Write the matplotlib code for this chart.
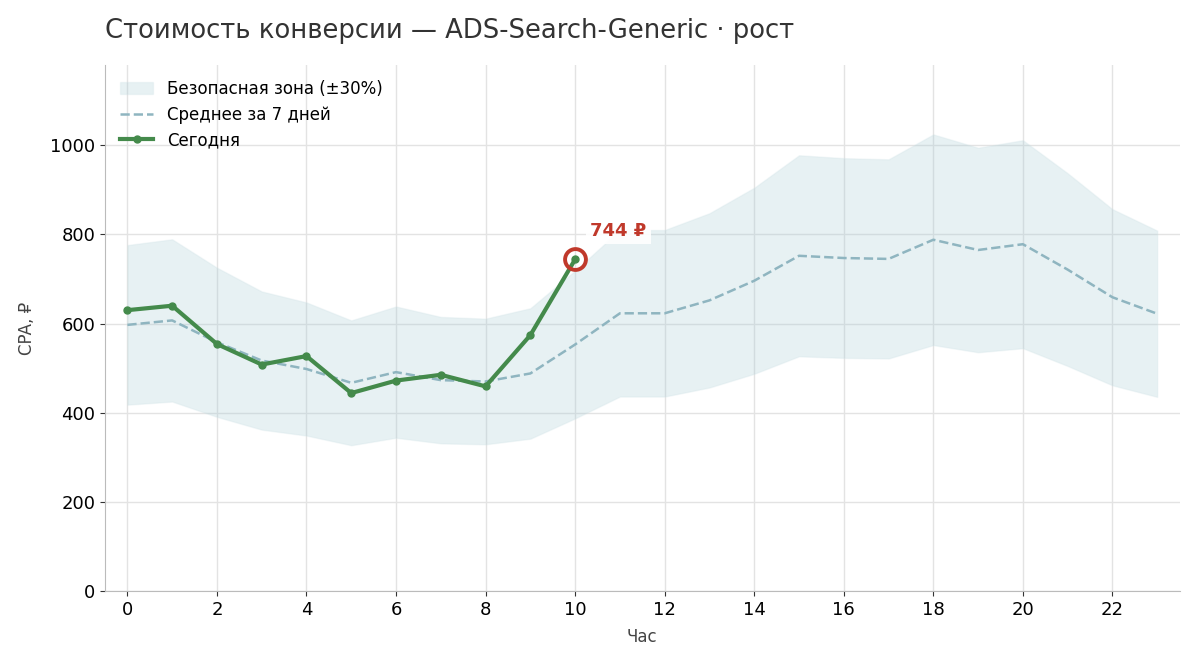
import numpy as np
import matplotlib
matplotlib.use("Agg")
import matplotlib.pyplot as plt

plt.rcParams['font.family'] = ['DejaVu Sans']

# Hourly CPA data
hours = list(range(24))
avg_7d = [597, 607, 558, 517, 498, 467, 491, 473, 470, 488, 553, 623,
          623, 652, 696, 752, 747, 745, 788, 765, 778, 721, 659, 622]
today_hours = list(range(11))
today = [630, 640, 554, 508, 527, 444, 472, 485, 459, 574, 744]
band_pct = 0.30

avg = np.array(avg_7d)
upper = avg * (1 + band_pct)
lower = avg * (1 - band_pct)

fig = plt.figure(figsize=(12, 6.67), dpi=100)
ax = fig.add_axes([0.0875, 0.114, 0.8955, 0.7885])

ax.fill_between(hours, lower, upper, color='#a9cdd5', alpha=0.28,
                linewidth=1, edgecolor='#cfe2e6', label='Безопасная зона (±30%)')
ax.plot(hours, avg_7d, color='#8fb5c0', linestyle='--', linewidth=1.8,
        label='Среднее за 7 дней')
ax.plot(today_hours, today, color='#448a4b', linewidth=3, marker='o',
        markersize=5, label='Сегодня')

# Highlight the latest point
last_x, last_y = today_hours[-1], today[-1]
ax.plot([last_x], [last_y], marker='o', markersize=15, markerfacecolor='none',
        markeredgecolor='#c0392b', markeredgewidth=2.8, linestyle='none')
ax.annotate(f'{last_y} ₽', xy=(last_x, last_y), xytext=(11, 17),
            textcoords='offset points', fontsize=13, fontweight='bold',
            color='#c0392b',
            bbox=dict(boxstyle='square,pad=0.25', fc='white', ec='none', alpha=0.9))

ax.set_xlim(-0.5, 23.5)
ax.set_ylim(0, 1180)
ax.set_xticks(range(0, 24, 2))
ax.set_yticks(range(0, 1001, 200))
ax.tick_params(labelsize=13, color='#333333')
ax.grid(True, color='#e3e3e3', linewidth=1)
ax.set_axisbelow(True)
for s in ['top', 'right']:
    ax.spines[s].set_visible(False)
for s in ['left', 'bottom']:
    ax.spines[s].set_color('#bbbbbb')

ax.set_xlabel('Час', fontsize=12, color='#444444', labelpad=7)
ax.set_ylabel('CPA, ₽', fontsize=12, color='#444444', labelpad=10)

ax.legend(loc='upper left', frameon=False, fontsize=12, labelspacing=0.45)

fig.text(0.0875, 0.953, 'Стоимость конверсии — ADS-Search-Generic · рост',
         fontsize=18.6, color='#333333', ha='left', va='center')

fig.savefig('out.png', dpi=100)
